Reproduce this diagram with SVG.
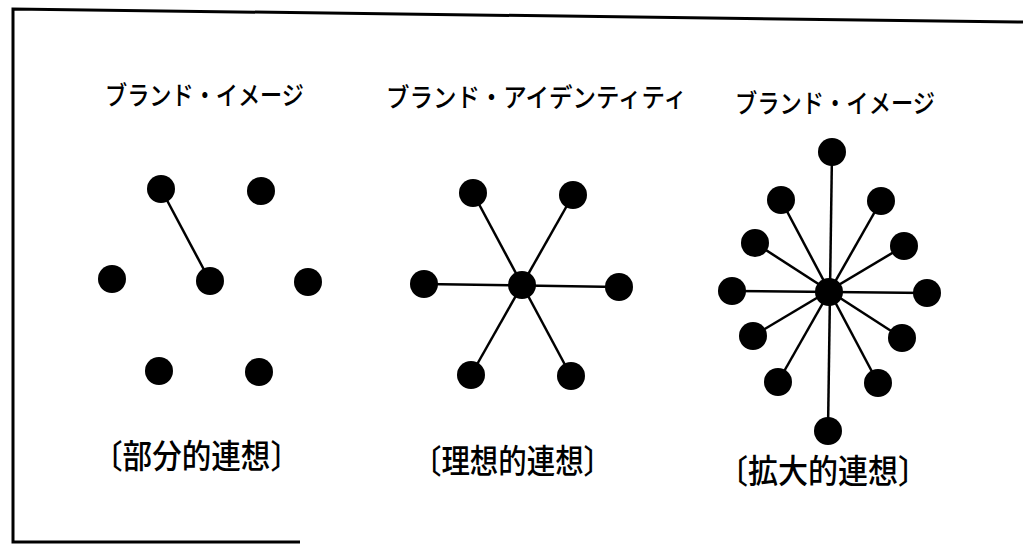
<svg xmlns="http://www.w3.org/2000/svg" width="1023" height="551" viewBox="0 0 1023 551">
<style>
.t{font-family:"Noto Sans CJK JP","Noto Sans",sans-serif;font-size:26px;font-weight:500;fill:#000}
.b{font-family:"Noto Sans CJK JP","Noto Sans",sans-serif;font-size:33px;font-weight:500;fill:#000}
.n{fill:#000}
.e{stroke:#000;stroke-width:2.5;fill:none}
.f{stroke:#000;stroke-width:3;fill:none}
</style>
<rect width="1023" height="551" fill="#fff"/>
<g id="frame">
<polyline class="f" points="1023,22 13,9 13,542 300,542"/>
</g>
<g id="titles">
<text class="t" x="105" y="105" textLength="199" lengthAdjust="spacingAndGlyphs">ブランド・イメージ</text>
<text class="t" x="386" y="107" textLength="301" lengthAdjust="spacingAndGlyphs">ブランド・アイデンティティ</text>
<text class="t" x="735" y="113" textLength="200" lengthAdjust="spacingAndGlyphs">ブランド・イメージ</text>
</g>
<g id="connectors">
<line class="e" x1="161" y1="189" x2="210" y2="281"/>
<line class="e" x1="473" y1="193" x2="571" y2="376"/>
<line class="e" x1="573" y1="195" x2="471" y2="375"/>
<line class="e" x1="424" y1="284" x2="619" y2="287"/>
<line class="e" x1="832" y1="152" x2="828" y2="431"/>
<line class="e" x1="781" y1="200" x2="878" y2="383"/>
<line class="e" x1="881" y1="201" x2="778" y2="382"/>
<line class="e" x1="755" y1="243" x2="902" y2="338"/>
<line class="e" x1="904" y1="246" x2="753" y2="336"/>
<line class="e" x1="732" y1="291" x2="927" y2="293"/>
</g>
<g id="partial">
<circle class="n" cx="161" cy="189" r="14"/>
<circle class="n" cx="261" cy="191" r="14"/>
<circle class="n" cx="112" cy="279" r="14"/>
<circle class="n" cx="210" cy="281" r="14"/>
<circle class="n" cx="308" cy="282" r="14"/>
<circle class="n" cx="159" cy="371" r="14"/>
<circle class="n" cx="259" cy="372" r="14"/>
</g>
<g id="ideal">
<circle class="n" cx="473" cy="193" r="14"/>
<circle class="n" cx="573" cy="195" r="14"/>
<circle class="n" cx="424" cy="284" r="14"/>
<circle class="n" cx="522" cy="285" r="14"/>
<circle class="n" cx="619" cy="287" r="14"/>
<circle class="n" cx="471" cy="375" r="14"/>
<circle class="n" cx="571" cy="376" r="14"/>
</g>
<g id="extended">
<circle class="n" cx="832" cy="152" r="14"/>
<circle class="n" cx="781" cy="200" r="14"/>
<circle class="n" cx="881" cy="201" r="14"/>
<circle class="n" cx="755" cy="243" r="14"/>
<circle class="n" cx="904" cy="246" r="14"/>
<circle class="n" cx="732" cy="291" r="14"/>
<circle class="n" cx="829" cy="292" r="14"/>
<circle class="n" cx="927" cy="293" r="14"/>
<circle class="n" cx="753" cy="336" r="14"/>
<circle class="n" cx="902" cy="338" r="14"/>
<circle class="n" cx="778" cy="382" r="14"/>
<circle class="n" cx="878" cy="383" r="14"/>
<circle class="n" cx="828" cy="431" r="14"/>
</g>
<g id="labels">
<text class="b" x="93" y="468" textLength="207" lengthAdjust="spacingAndGlyphs">〔部分的連想〕</text>
<text class="b" x="413" y="473" textLength="199" lengthAdjust="spacingAndGlyphs">〔理想的連想〕</text>
<text class="b" x="718" y="483" textLength="210" lengthAdjust="spacingAndGlyphs">〔拡大的連想〕</text>
</g>
</svg>
